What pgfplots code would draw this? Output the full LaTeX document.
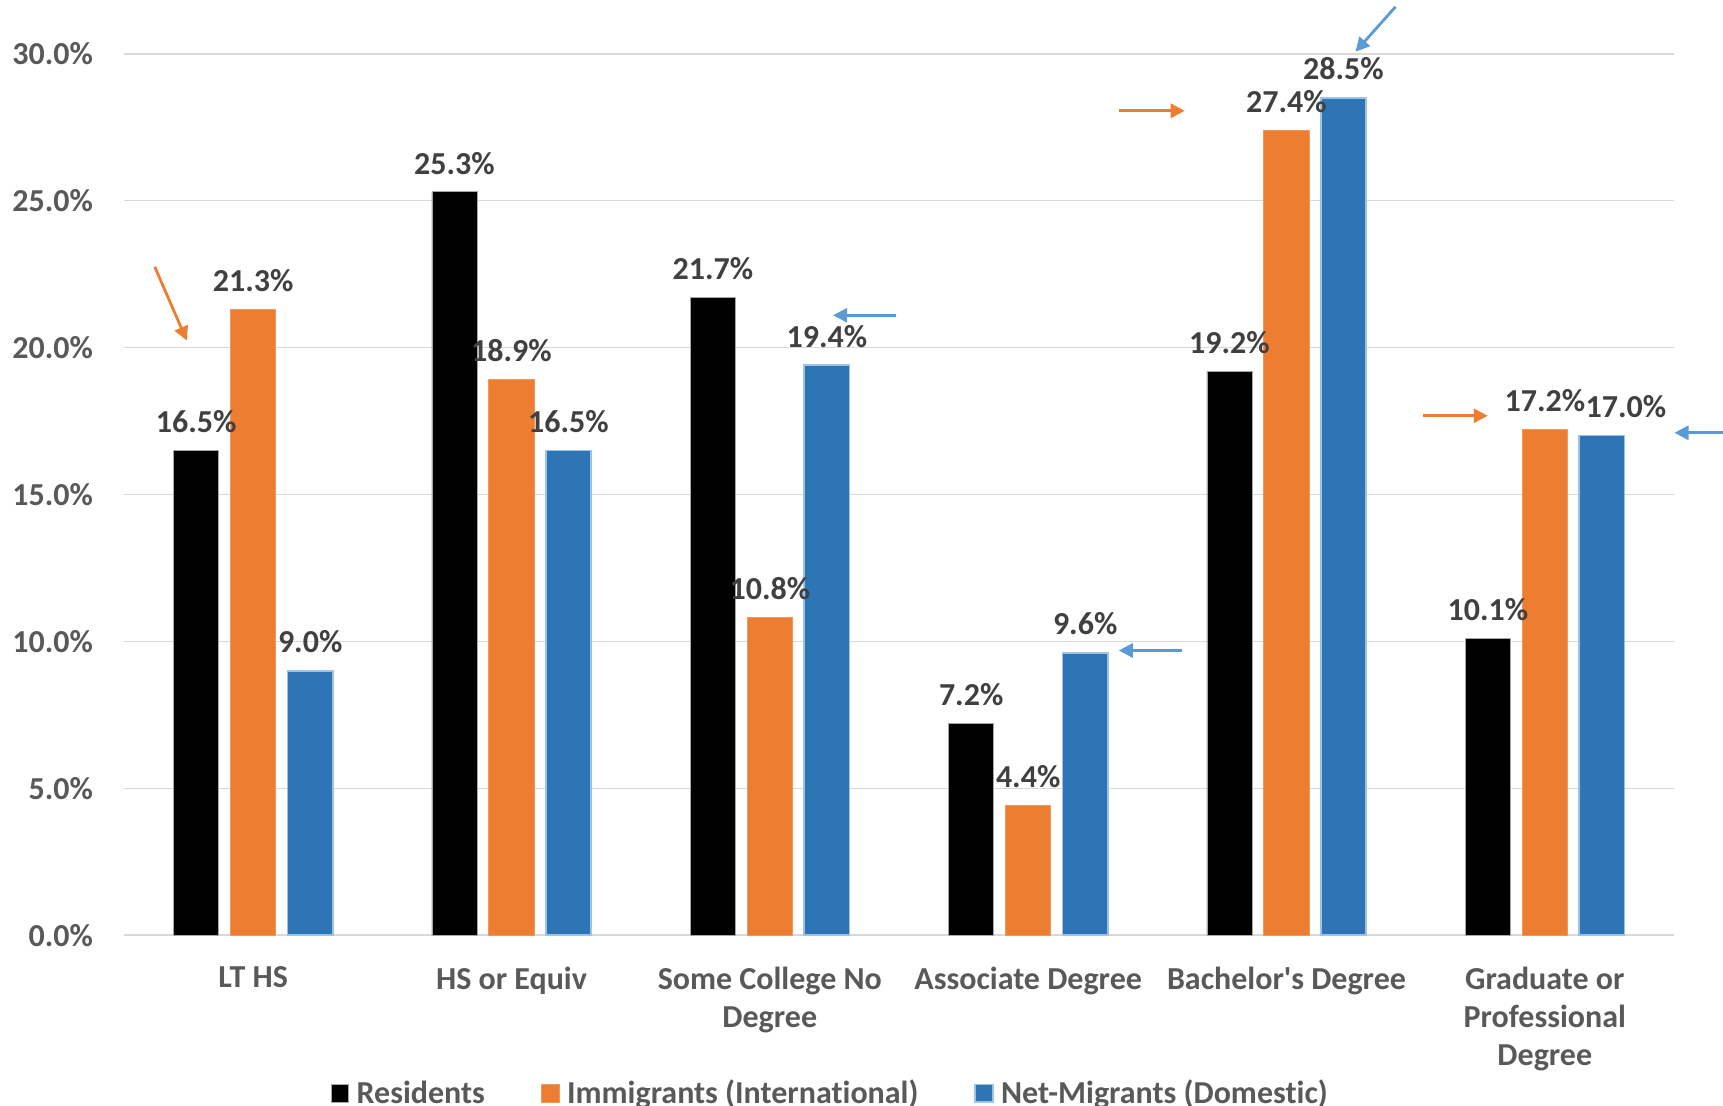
\documentclass[border=0pt]{standalone}
\usepackage{fontspec}
\setmainfont{Carlito}[Ligatures={TeX,NoCommon}]
\usepackage{pgfplots}
\pgfplotsset{compat=1.18}
\usetikzlibrary{arrows.meta}

\definecolor{resblack}{HTML}{000000}
\definecolor{immorange}{HTML}{ED7D31}
\definecolor{netblue}{HTML}{2E75B6}
\definecolor{netedge}{HTML}{9DC3E6}
\definecolor{arrowblue}{HTML}{5B9BD5}
\definecolor{gridgray}{HTML}{D9D9D9}
\definecolor{ticktext}{HTML}{595959}
\definecolor{labeltext}{HTML}{404040}

\newcommand{\chartfont}{\fontsize{16}{19.2}\selectfont\bfseries}

\begin{document}
\begin{tikzpicture}
\begin{axis}[
  at={(0,0)}, anchor=south west,
  width=775pt, height=440.7pt, scale only axis,
  xmin=-0.5, xmax=5.5, ymin=0, ymax=30,
  clip=false,
  axis line style={draw=none},
  tick style={draw=none},
  ymajorgrids,
  major grid style={gridgray, line width=0.75pt},
  ytick={0,5,...,30},
  yticklabels={0.0\%,5.0\%,10.0\%,15.0\%,20.0\%,25.0\%,30.0\%},
  yticklabel style={font=\chartfont, text=ticktext, anchor=east, inner sep=0pt, xshift=-15.3pt},
  xtick={0,1,2,3,4,5},
  xticklabels={LT HS, HS or Equiv, {Some College No\\Degree}, Associate Degree, Bachelor\textquotesingle s Degree, {Graduate or\\Professional\\Degree}},
  xticklabel style={font=\chartfont, text=ticktext, align=center, anchor=north, inner sep=0pt, yshift=-11.3pt},
  ybar,
  bar width=22.6pt,
  nodes near coords={\pgfmathprintnumber[fixed,fixed zerofill,precision=1,assume math mode=true]{\pgfplotspointmeta}\%},
  every node near coord/.append style={font=\chartfont, text=labeltext, anchor=south, inner sep=0pt, yshift=8.6pt},
  legend columns=3,
  legend style={at={(0.455,-0.1795)}, anchor=center, draw=none, fill=none,
    font=\chartfont, text=ticktext, inner sep=0pt,
    nodes={inner sep=0pt},
    /tikz/every odd column/.append style={column sep=3.8pt},
    /tikz/every even column/.append style={column sep=28pt}},
  legend image code/.code={\draw[#1] (0pt,-4.4pt) rectangle (8.8pt,4.4pt);},
]
% Residents
\addplot[bar shift=-28.5pt, fill=resblack, draw=gray!70, line width=0.4pt]
  coordinates {(0,16.5) (1,25.3) (2,21.7) (3,7.2) (4,19.2) (5,10.1)};
% Immigrants (International)
\addplot[bar shift=0pt, fill=immorange, draw=immorange!80!white, line width=0.5pt]
  coordinates {(0,21.3) (1,18.9) (2,10.8) (3,4.4) (4,27.4) (5,17.2)};
% Net-Migrants (Domestic); dx nudges a label sideways where labels would collide
\addplot[bar shift=28.5pt, fill=netblue, draw=netedge, line width=0.75pt,
  visualization depends on={\thisrow{dx} \as \lbldx},
  every node near coord/.append style={xshift=\lbldx pt}]
  table[x=x, y=y] {
x y    dx
0 9.0  0
1 16.5 0
2 19.4 0
3 9.6  0
4 28.5 0
5 17.0 12
};
\legend{Residents, Immigrants (International), Net-Migrants (Domestic)}

% highlight arrows
\draw[immorange, line width=1.4pt, -{Triangle[length=7pt,width=7pt]}]
  (axis cs:-0.381,22.75) -- (axis cs:-0.257,20.24);
\draw[arrowblue, line width=1.4pt, -{Triangle[length=7pt,width=7pt]}]
  (axis cs:2.487,21.10) -- (axis cs:2.245,21.10);
\draw[arrowblue, line width=1.4pt, -{Triangle[length=7pt,width=7pt]}]
  (axis cs:3.594,9.69) -- (axis cs:3.351,9.69);
\draw[immorange, line width=1.4pt, -{Triangle[length=7pt,width=7pt]}]
  (axis cs:3.351,28.06) -- (axis cs:3.606,28.06);
\draw[arrowblue, line width=1.4pt, -{Triangle[length=7pt,width=7pt]}]
  (axis cs:4.422,31.60) -- (axis cs:4.267,30.07);
\draw[immorange, line width=1.4pt, -{Triangle[length=7pt,width=7pt]}]
  (axis cs:4.530,17.68) -- (axis cs:4.779,17.68);
\draw[arrowblue, line width=1.4pt, -{Triangle[length=7pt,width=7pt]}]
  (axis cs:5.75,17.10) -- (axis cs:5.502,17.10);
\end{axis}
\pgfresetboundingbox
\path[use as bounding box] (-62pt,-85.4pt) rectangle (799.5pt,467.6pt);
\end{tikzpicture}
\end{document}
